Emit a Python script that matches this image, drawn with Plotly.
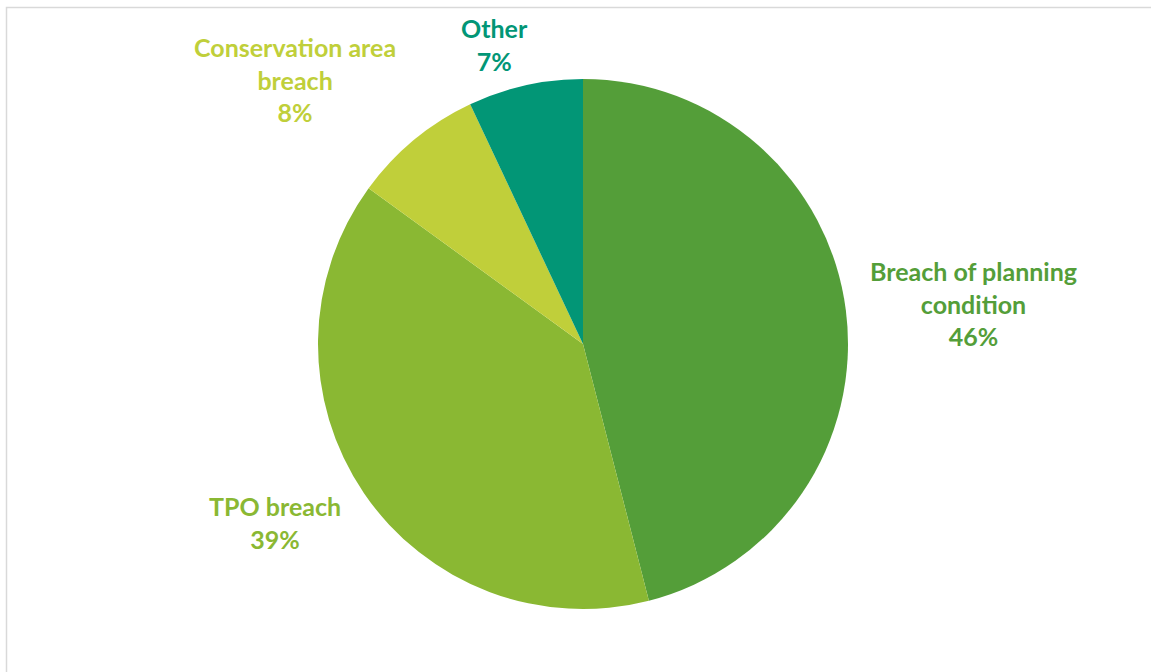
import plotly.graph_objects as go

# Enforcement case types and their share of cases (%)
categories = ["Breach of planning condition", "TPO breach", "Conservation area breach", "Other"]
shares = [46, 39, 8, 7]
label_lines = [["Breach of planning", "condition"], ["TPO breach"], ["Conservation area", "breach"], ["Other"]]
colors = ["#549E39", "#8AB833", "#C0CF3A", "#029676"]

# label anchor positions (pixels from the top-left of the canvas)
label_pos = [(973, 303), (275, 522), (295, 79), (494, 45)]

W, H = 1151, 672
cx, cy, r = 583, 344, 265

fig = go.Figure(
    go.Pie(
        labels=categories,
        values=shares,
        sort=False,
        direction="clockwise",
        rotation=0,
        marker=dict(colors=colors, line=dict(color="white", width=0)),
        textinfo="none",
        hoverinfo="label+percent",
        showlegend=False,
        domain=dict(x=[(cx - r) / W, (cx + r) / W], y=[(H - cy - r) / H, (H - cy + r) / H]),
    )
)

total = sum(shares)
for lines, v, col, (px, py) in zip(label_lines, shares, colors, label_pos):
    txt = "<br>".join(lines + [f"{round(100 * v / total)}%"])
    fig.add_annotation(
        x=px / W, y=1 - py / H, xref="paper", yref="paper",
        text=txt, showarrow=False, align="center",
        xanchor="center", yanchor="middle",
        font=dict(family="Lato", size=25, color=col, weight="bold"),
    )

# light chart-area frame
fig.add_shape(
    type="rect", xref="paper", yref="paper",
    x0=6.5 / W, x1=1.02, y0=-0.02, y1=1 - 7.5 / H,
    line=dict(color="#D9D9D9", width=1.5), fillcolor="rgba(0,0,0,0)",
)

fig.update_layout(
    width=W, height=H,
    margin=dict(l=0, r=0, t=0, b=0),
    paper_bgcolor="white", plot_bgcolor="white",
)

fig.write_html("out.html")
